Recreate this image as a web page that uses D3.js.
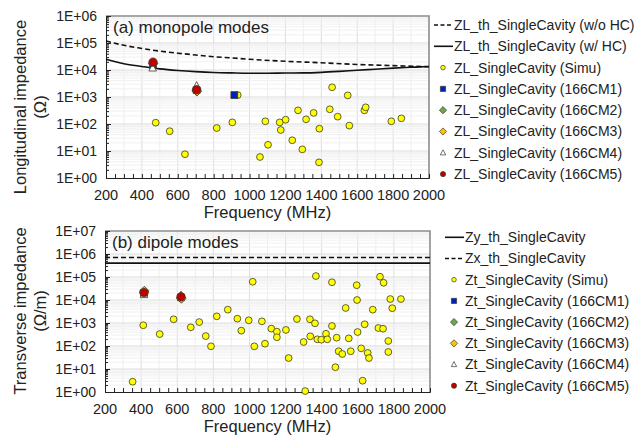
<!DOCTYPE html>
<html>
<head>
<meta charset="utf-8">
<script src="https://cdn.jsdelivr.net/npm/d3@7"></script>
<style>
  body { margin: 0; background: #fff; }
  svg { display: block; font-family: "Liberation Sans", Arial, sans-serif; }
</style>
</head>
<body>
<div id="container"></div>
<script>
/* DATA */
const freqTicks = [200, 400, 600, 800, 1000, 1200, 1400, 1600, 1800, 2000];

// (a) monopole modes
const zlThNoHC = [[200, 120000], [300, 82000], [400, 63000], [500, 50000], [600, 42000], [700, 36000],
  [800, 31000], [900, 28000], [1000, 25000], [1200, 21000], [1400, 18500], [1600, 16000], [1800, 14500], [2000, 13200]];
const zlThHC = [[200, 25000], [300, 17000], [400, 13500], [500, 11000], [600, 9600], [700, 8700], [800, 8100],
  [900, 7800], [1000, 7600], [1100, 7600], [1200, 7700], [1300, 7800], [1400, 8200], [1500, 8900],
  [1600, 9800], [1700, 10700], [1800, 11700], [1900, 12600], [2000, 13500]];
const zlSimu = [[477, 112], [555, 54], [640, 7.6], [817, 71], [904, 115], [934, 1180], [1058, 6], [1088, 126],
  [1103, 17], [1168, 115], [1174, 60], [1201, 144], [1238, 25], [1270, 320], [1294, 11.5], [1315, 149],
  [1357, 257], [1389, 67], [1387, 3.8], [1447, 350], [1460, 2290], [1491, 187], [1547, 1150], [1556, 87],
  [1640, 320], [1647, 415], [1790, 126], [1846, 162]];
const zlCM1 = [[462, 15000], [705, 1800], [915, 1180]];
const zlCM2 = [[462, 17000], [705, 1700]];
const zlCM3 = [[464, 17500], [707, 1600]];
const zlCM4 = [[460, 11800], [705, 2600]];
const zlCM5 = [[462, 19500], [705, 1850]];

// (b) dipole modes
const zyTh = [[200, 400000], [2000, 400000]];
const zxTh = [[200, 700000], [2000, 700000]];
const ztSimu = [[353, 2.8], [412, 800], [503, 330], [580, 1450], [675, 650], [722, 1100], [758, 270], [787, 97],
  [819, 1950], [880, 3800], [933, 1540], [955, 465], [996, 1310], [1018, 62000], [1027, 97], [1069, 1180],
  [1086, 126], [1121, 570], [1152, 420], [1152, 240], [1202, 500], [1217, 30], [1263, 1490], [1300, 149],
  [1309, 1.1], [1335, 1450], [1337, 264], [1363, 970], [1368, 110000], [1376, 195], [1398, 188], [1424, 340],
  [1431, 195], [1457, 59000], [1457, 740], [1483, 230], [1476, 12], [1494, 59], [1514, 45], [1533, 4500],
  [1550, 215], [1561, 59], [1594, 44000], [1596, 10000], [1599, 405], [1619, 79], [1627, 3.1], [1638, 880],
  [1655, 50], [1662, 30], [1683, 3800], [1714, 605], [1723, 103000], [1740, 565], [1743, 56000], [1769, 165],
  [1769, 55], [1780, 11000], [1791, 4400], [1839, 11000]];
const ztCM1 = [[416, 20000], [621, 13000]];
const ztCM2 = [[416, 22000], [621, 12500]];
const ztCM3 = [[418, 25000], [623, 11500]];
const ztCM4 = [[416, 17000], [621, 16000]];
const ztCM5 = [[416, 21000], [621, 13800]];

/* STYLES */
const markerStyle = {
  simu: { shape: "circle", fill: "#ffff00", size: 3.4, legend: 2.3 },
  cm1: { shape: "square", fill: "#0022bb", size: 3.4, legend: 2.6 },
  cm2: { shape: "diamond", fill: "#6aa84f", size: 4.6, legend: 3.6 },
  cm3: { shape: "diamond", fill: "#ffc000", size: 4.6, legend: 3.6 },
  cm4: { shape: "triangle", fill: "#ffffff", size: 4.2, legend: 3.0 },
  cm5: { shape: "circle", fill: "#c00000", size: 4.2, legend: 2.6 }
};

function markerPath(shape, s) {
  if (shape === "circle") return d3.symbol(d3.symbolCircle, Math.PI * s * s)();
  if (shape === "square") return `M${-s},${-s}H${s}V${s}H${-s}Z`;
  if (shape === "diamond") return `M0,${-s}L${s},0L0,${s}L${-s},0Z`;
  if (shape === "triangle") return `M0,${-s}L${s * 0.9},${s * 0.7}L${-s * 0.9},${s * 0.7}Z`;
}

const width = 643, height = 437;
const svg = d3.select("#container").append("svg")
  .attr("width", width)
  .attr("height", height);

function drawPanel(cfg) {
  const x = d3.scaleLinear().domain([200, 2000]).range([cfg.left, cfg.right]);
  const y = d3.scaleLog().domain([1, cfg.yMax]).range([cfg.bottom, cfg.top]);
  const g = svg.append("g");

  // grid
  const minorX = d3.range(300, 2000, 200);
  g.selectAll("line.gxm").data(minorX).join("line")
    .attr("x1", d => x(d)).attr("x2", d => x(d)).attr("y1", cfg.top).attr("y2", cfg.bottom)
    .attr("stroke", "#eeeeee");
  g.selectAll("line.gx").data(freqTicks.slice(1, -1)).join("line")
    .attr("x1", d => x(d)).attr("x2", d => x(d)).attr("y1", cfg.top).attr("y2", cfg.bottom)
    .attr("stroke", "#dddddd");
  const decades = d3.range(0, Math.log10(cfg.yMax) + 1).map(e => Math.pow(10, e));
  const minorY = [];
  decades.slice(0, -1).forEach(d => { for (let k = 2; k < 10; k++) minorY.push(d * k); });
  g.selectAll("line.gym").data(minorY).join("line")
    .attr("x1", cfg.left).attr("x2", cfg.right).attr("y1", d => y(d)).attr("y2", d => y(d))
    .attr("stroke", "#f0f0f0");
  g.selectAll("line.gy").data(decades.slice(1, -1)).join("line")
    .attr("x1", cfg.left).attr("x2", cfg.right).attr("y1", d => y(d)).attr("y2", d => y(d))
    .attr("stroke", "#dddddd");

  // frame
  g.append("path")
    .attr("d", `M${cfg.left},${cfg.top}H${cfg.right}V${cfg.bottom}`)
    .attr("fill", "none").attr("stroke", "#8c8c8c").attr("stroke-width", 1.6);

  // axes
  const xAxis = d3.axisBottom(x).tickValues(d3.range(200, 2001, 50)).tickSize(-4).tickFormat("");
  g.append("g").attr("transform", `translate(0,${cfg.bottom})`).call(xAxis)
    .call(a => a.select(".domain").attr("stroke", "#222"))
    .call(a => a.selectAll(".tick line").attr("stroke", "#222"));
  g.selectAll("text.xt").data(freqTicks).join("text")
    .attr("x", d => x(d)).attr("y", cfg.bottom + 22)
    .attr("text-anchor", "middle").attr("font-size", 14.5).attr("fill", "#222")
    .text(d => d);

  const yAxis = d3.axisLeft(y).tickValues(minorY).tickSize(-3).tickFormat("");
  g.append("g").attr("transform", `translate(${cfg.left},0)`).call(yAxis)
    .call(a => a.select(".domain").attr("stroke", "#222"))
    .call(a => a.selectAll(".tick line").attr("stroke", "#222"));
  g.append("g").attr("transform", `translate(${cfg.left},0)`)
    .call(d3.axisLeft(y).tickValues(decades).tickSize(-5).tickFormat(""))
    .call(a => a.select(".domain").remove())
    .call(a => a.selectAll(".tick line").attr("stroke", "#222"));
  g.selectAll("text.yt").data(decades).join("text")
    .attr("x", cfg.left - 9).attr("y", d => y(d)).attr("dy", "0.35em")
    .attr("text-anchor", "end").attr("font-size", 14).attr("fill", "#222")
    .text(d => "1E+" + String(Math.round(Math.log10(d))).padStart(2, "0"));

  // titles
  g.append("text").attr("x", (cfg.left + cfg.right) / 2).attr("y", cfg.bottom + 40)
    .attr("text-anchor", "middle").attr("font-size", 16.5).attr("fill", "#222").text("Frequency (MHz)");
  const cy = cfg.yLabelCy;
  g.append("text").attr("transform", `translate(${26},${cy}) rotate(-90)`)
    .attr("text-anchor", "middle").attr("font-size", 16.5).attr("fill", "#222").text(cfg.yLabel);
  g.append("text").attr("transform", `translate(${46},${cy}) rotate(-90)`)
    .attr("text-anchor", "middle").attr("font-size", 16.5).attr("fill", "#222").text(cfg.yUnit);
  g.append("text").attr("x", cfg.left + 7).attr("y", cfg.top + 17)
    .attr("font-size", 17).attr("fill", "#222").text(cfg.title);

  // lines
  const line = d3.line().x(d => x(d[0])).y(d => y(d[1])).curve(d3.curveMonotoneX);
  cfg.lines.forEach(l => {
    g.append("path").datum(l.data).attr("d", line)
      .attr("fill", "none").attr("stroke", "#111").attr("stroke-width", 1.6)
      .attr("stroke-dasharray", l.dashed ? "5,3" : null);
  });

  // markers
  cfg.series.forEach(s => {
    const st = markerStyle[s.key];
    g.selectAll(null).data(s.data).join("path")
      .attr("d", markerPath(st.shape, st.size))
      .attr("transform", d => `translate(${x(d[0])},${y(d[1])})`)
      .attr("fill", st.fill).attr("stroke", "#3a3a2a").attr("stroke-width", 0.8);
  });

  // legend
  const lg = svg.append("g");
  const entries = cfg.lines.map(l => ({ label: l.label, dashed: l.dashed, isLine: true }))
    .concat(cfg.series.map(s => ({ label: s.label, key: s.key })));
  entries.forEach((e, i) => {
    const ly = cfg.legendY + i * cfg.legendStep;
    if (e.isLine) {
      lg.append("line").attr("x1", cfg.legendX).attr("x2", cfg.legendX + 19)
        .attr("y1", ly).attr("y2", ly).attr("stroke", "#111").attr("stroke-width", 1.6)
        .attr("stroke-dasharray", e.dashed ? "4,2.5" : null);
    } else {
      const st = markerStyle[e.key];
      lg.append("path").attr("d", markerPath(st.shape, st.legend))
        .attr("transform", `translate(${cfg.legendX + 9},${ly})`)
        .attr("fill", st.fill).attr("stroke", "#3a3a2a").attr("stroke-width", 0.7);
    }
    lg.append("text").attr("x", cfg.legendX + 20).attr("y", ly).attr("dy", "0.35em")
      .attr("font-size", 14).attr("fill", "#222").text(e.label);
  });
}

drawPanel({
  left: 106, right: 429, top: 16, bottom: 178, yMax: 1e6,
  title: "(a) monopole modes", yLabel: "Longitudinal impedance", yUnit: "(Ω)", yLabelCy: 107,
  legendX: 434, legendY: 25, legendStep: 21.3,
  lines: [
    { data: zlThNoHC, dashed: true, label: "ZL_th_SingleCavity (w/o HC)" },
    { data: zlThHC, dashed: false, label: "ZL_th_SingleCavity (w/ HC)" }
  ],
  series: [
    { key: "simu", data: zlSimu, label: "ZL_SingleCavity (Simu)" },
    { key: "cm1", data: zlCM1, label: "ZL_SingleCavity (166CM1)" },
    { key: "cm2", data: zlCM2, label: "ZL_SingleCavity (166CM2)" },
    { key: "cm3", data: zlCM3, label: "ZL_SingleCavity (166CM3)" },
    { key: "cm4", data: zlCM4, label: "ZL_SingleCavity (166CM4)" },
    { key: "cm5", data: zlCM5, label: "ZL_SingleCavity (166CM5)" }
  ]
});

drawPanel({
  left: 105, right: 430, top: 231, bottom: 392, yMax: 1e7,
  title: "(b) dipole modes", yLabel: "Transverse impedance", yUnit: "(Ω/m)", yLabelCy: 311,
  legendX: 445, legendY: 237.3, legendStep: 21.2,
  lines: [
    { data: zyTh, dashed: false, label: "Zy_th_SingleCavity" },
    { data: zxTh, dashed: true, label: "Zx_th_SingleCavity" }
  ],
  series: [
    { key: "simu", data: ztSimu, label: "Zt_SingleCavity (Simu)" },
    { key: "cm1", data: ztCM1, label: "Zt_SingleCavity (166CM1)" },
    { key: "cm2", data: ztCM2, label: "Zt_SingleCavity (166CM2)" },
    { key: "cm3", data: ztCM3, label: "Zt_SingleCavity (166CM3)" },
    { key: "cm4", data: ztCM4, label: "Zt_SingleCavity (166CM4)" },
    { key: "cm5", data: ztCM5, label: "Zt_SingleCavity (166CM5)" }
  ]
});
</script>
</body>
</html>
